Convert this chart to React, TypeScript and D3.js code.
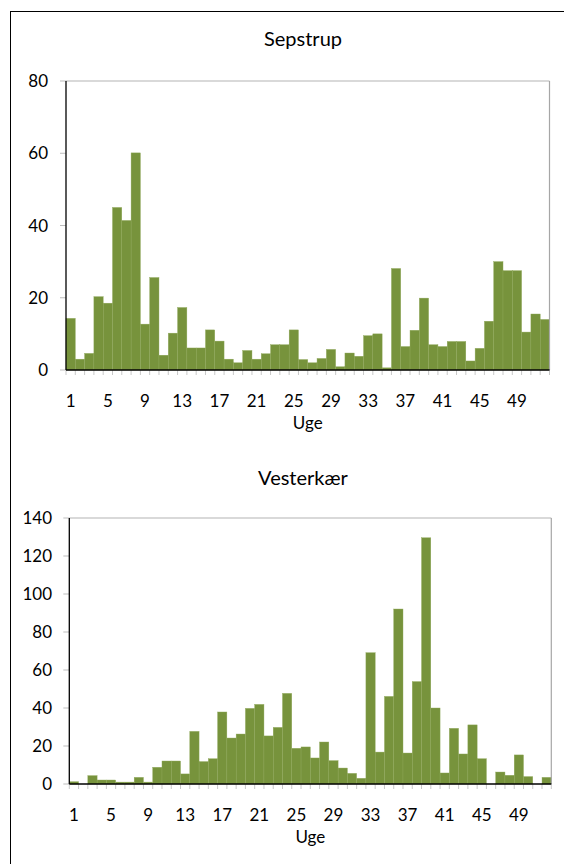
import React from "react";
import * as d3 from "d3";

const weeks: number[] = Array.from({ length: 52 }, (_, i) => i + 1);
const sepstrup: number[] = [
  14.3, 3.0, 4.6, 20.3, 18.5, 45.0, 41.4, 60.1, 12.7, 25.6,
  4.1, 10.2, 17.3, 6.1, 6.1, 11.1, 8.0, 3.0, 2.0, 5.4,
  3.0, 4.5, 7.0, 7.0, 11.1, 2.9, 2.0, 3.2, 5.7, 0.9,
  4.7, 3.8, 9.5, 10.0, 0.6, 28.1, 6.5, 11.0, 19.9, 7.0,
  6.5, 7.9, 7.9, 2.5, 6.0, 13.5, 30.0, 27.5, 27.5, 10.5,
  15.5, 14.0,
];
const vesterkaer: number[] = [
  1.2, 0, 4.4, 2.1, 2.1, 1.0, 1.0, 3.5, 1.0, 8.8,
  12.1, 12.1, 5.3, 27.7, 11.8, 13.3, 37.9, 24.2, 26.3, 39.8,
  41.9, 25.3, 29.8, 47.7, 18.8, 19.5, 13.7, 22.1, 12.3, 8.4,
  5.6, 3.0, 69.1, 16.8, 46.1, 92.1, 16.3, 53.9, 129.6, 40.0,
  5.8, 29.3, 15.8, 31.1, 13.3, 0, 6.3, 4.6, 15.3, 3.9,
  0, 3.5,
];
const sepTicks: number[] = [0, 20, 40, 60, 80];
const vesTicks: number[] = [0, 20, 40, 60, 80, 100, 120, 140];
const xLabels: number[] = [1, 5, 9, 13, 17, 21, 25, 29, 33, 37, 41, 45, 49];

const FONT = "Lato, 'Open Sans', sans-serif";
const BAR = "#77933C";

type PanelProps = {
  title: string;
  values: number[];
  yTicks: number[];
  yMax: number;
  left: number;
  right: number;
  top: number;
  bottom: number;
  titleY: number;
  labelRight: number;
};

function Panel(p: PanelProps) {
  const x = d3.scaleBand<number>().domain(weeks).range([p.left, p.right]).padding(0);
  const y = d3.scaleLinear().domain([0, p.yMax]).range([p.bottom, p.top]);
  const bw = x.bandwidth();
  return (
    <g>
      <text x={303} y={p.titleY} textAnchor="middle" fontFamily={FONT} fontSize={20} fill="#000">
        {p.title}
      </text>
      {p.values.map((v, i) =>
        v > 0 ? (
          <rect
            key={i}
            x={x(weeks[i])!}
            y={y(v)}
            width={bw}
            height={p.bottom - y(v)}
            fill={BAR}
            stroke="#8fa85a"
            strokeWidth={0.4}
          />
        ) : null
      )}
      <line x1={p.left} x2={p.right} y1={p.top} y2={p.top} stroke="#b4b4b4" strokeWidth={1.2} />
      <line x1={p.right} x2={p.right} y1={p.top} y2={p.bottom} stroke="#a6a6a6" strokeWidth={1.2} />
      {p.yTicks.map((t) => (
        <g key={t}>
          <line x1={p.left - 6} x2={p.left} y1={y(t)} y2={y(t)} stroke="#bdbdbd" strokeWidth={1} />
          <text
            x={p.labelRight}
            y={y(t)}
            dy="0.36em"
            textAnchor="end"
            fontFamily={FONT}
            fontSize={17}
            fill="#000"
          >
            {t}
          </text>
        </g>
      ))}
      {weeks.map((w) => (
        <line
          key={w}
          x1={x(w)!}
          x2={x(w)!}
          y1={p.bottom}
          y2={p.bottom + 5}
          stroke="#c8c8c8"
          strokeWidth={1}
        />
      ))}
      <line x1={p.right} x2={p.right} y1={p.bottom} y2={p.bottom + 5} stroke="#c8c8c8" strokeWidth={1} />
      {xLabels.map((w) => (
        <text
          key={w}
          x={x(w)! + bw / 2}
          y={p.bottom + 37}
          textAnchor="middle"
          fontFamily={FONT}
          fontSize={17}
          fill="#000"
        >
          {w}
        </text>
      ))}
      <text
        x={(p.left + p.right) / 2}
        y={p.bottom + 59}
        textAnchor="middle"
        fontFamily={FONT}
        fontSize={17}
        fill="#000"
      >
        Uge
      </text>
      <line x1={p.left} x2={p.left} y1={p.top} y2={p.bottom} stroke="#000" strokeWidth={1.3} />
      <line x1={p.left} x2={p.right} y1={p.bottom} y2={p.bottom} stroke="#000" strokeWidth={1.5} />
    </g>
  );
}

export default function App() {
  return (
    <svg
      width={564}
      height={864}
      style={{ position: "absolute", left: 0, top: 0, background: "#fff" }}
    >
      <rect x={0} y={0} width={564} height={864} fill="#fff" />
      <rect x={10.5} y={11.5} width={700} height={900} fill="none" stroke="#000" strokeWidth={1} />
      <Panel
        title="Sepstrup"
        values={sepstrup}
        yTicks={sepTicks}
        yMax={80}
        left={66}
        right={549.5}
        top={81}
        bottom={370}
        titleY={46}
        labelRight={48}
      />
      <Panel
        title="Vesterkær"
        values={vesterkaer}
        yTicks={vesTicks}
        yMax={140}
        left={69.3}
        right={551.3}
        top={518}
        bottom={784}
        titleY={485}
        labelRight={52}
      />
    </svg>
  );
}
